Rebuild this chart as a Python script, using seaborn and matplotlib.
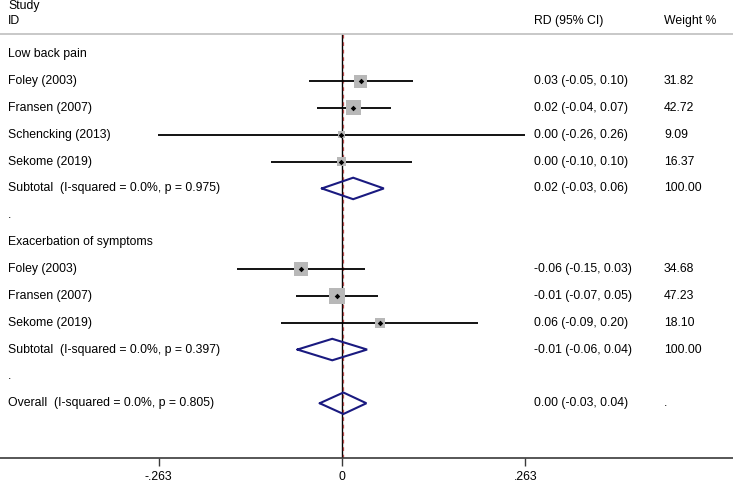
import numpy as np
import pandas as pd
import matplotlib
matplotlib.use("Agg")
import matplotlib.pyplot as plt
import seaborn as sns

# Dati del forest plot
group_names = ["Low back pain", "Exacerbation of symptoms"]
group_sizes = [4, 3]

study_names = ["Foley (2003)", "Fransen (2007)", "Schencking (2013)", "Sekome (2019)",
               "Foley (2003)", "Fransen (2007)", "Sekome (2019)"]
study_rd = [0.027, 0.016, -0.001, -0.001, -0.059, -0.007, 0.055]
study_lo = [-0.048, -0.036, -0.264, -0.102, -0.150, -0.066, -0.087]
study_hi = [0.102, 0.070, 0.262, 0.100, 0.033, 0.051, 0.195]
study_weight = [31.82, 42.72, 9.09, 16.37, 34.68, 47.23, 18.10]
study_ci_text = ["0.03 (-0.05, 0.10)", "0.02 (-0.04, 0.07)", "0.00 (-0.26, 0.26)",
                 "0.00 (-0.10, 0.10)", "-0.06 (-0.15, 0.03)", "-0.01 (-0.07, 0.05)",
                 "0.06 (-0.09, 0.20)"]
study_weight_text = ["31.82", "42.72", "9.09", "16.37", "34.68", "47.23", "18.10"]

pooled_labels = ["Subtotal  (I-squared = 0.0%, p = 0.975)",
                 "Subtotal  (I-squared = 0.0%, p = 0.397)",
                 "Overall  (I-squared = 0.0%, p = 0.805)"]
pooled_rd = [0.016, -0.014, 0.002]
pooled_lo = [-0.029, -0.064, -0.032]
pooled_hi = [0.060, 0.036, 0.035]
pooled_ci_text = ["0.02 (-0.03, 0.06)", "-0.01 (-0.06, 0.04)", "0.00 (-0.03, 0.04)"]
pooled_weight_text = ["100.00", "100.00", "."]

tick_values = [-0.263, 0, 0.263]
tick_labels = ["-.263", "0", ".263"]

# Costruzione delle righe
rows = []
k = 0
r = 0
for g, (gname, n) in enumerate(zip(group_names, group_sizes)):
    rows.append(dict(row=r, label=gname, kind="header"))
    r += 1
    for j in range(n):
        rows.append(dict(row=r, label=study_names[k], kind="study", rd=study_rd[k],
                         lo=study_lo[k], hi=study_hi[k], weight=study_weight[k],
                         ci=study_ci_text[k], w=study_weight_text[k]))
        k += 1
        r += 1
    rows.append(dict(row=r, label=pooled_labels[g], kind="pooled", rd=pooled_rd[g],
                     lo=pooled_lo[g], hi=pooled_hi[g], ci=pooled_ci_text[g],
                     w=pooled_weight_text[g]))
    r += 1
    rows.append(dict(row=r, label=".", kind="blank"))
    r += 1
rows.append(dict(row=r, label=pooled_labels[-1], kind="pooled", rd=pooled_rd[-1],
                 lo=pooled_lo[-1], hi=pooled_hi[-1], ci=pooled_ci_text[-1],
                 w=pooled_weight_text[-1]))
df = pd.DataFrame(rows)
studies = df[df["kind"] == "study"]
pooled = df[df["kind"] == "pooled"]

sns.set_theme(style="white")
plt.rcParams["font.family"] = ["Liberation Sans", "DejaVu Sans"]
plt.rcParams["text.color"] = "black"
fs = 8.8

W, H = 733, 482
fig = plt.figure(figsize=(W / 100, H / 100), dpi=100)
ax = fig.add_axes([0, (H - 458) / H, 1, (458 - 34) / H])

x0, scale = 342, 697.0
ax.set_xlim(-x0 / scale, (W - x0) / scale)
row_top, row_step = 54.2, 26.85
ax.set_ylim((458 - row_top) / row_step, (34 - row_top) / row_step)

navy = "#1a1a80"

# linea di non effetto e stima complessiva
ax.axvline(0, color="black", lw=1.0, zorder=1)
ax.axvline(pooled_rd[-1], color="#b54848", lw=0.9, ls=(0, (3, 3)), zorder=1)

# intervalli di confidenza
ax.hlines(studies["row"], studies["lo"], studies["hi"], color="black", lw=1.3, zorder=2)

# quadrati proporzionali al peso
sns.scatterplot(data=studies, x="rd", y="row", size="weight", sizes=(0, 274),
                size_norm=(0, 100), marker="s", color="#b8b8b8", linewidth=0,
                legend=False, ax=ax, zorder=3)
sns.scatterplot(data=studies, x="rd", y="row", marker="D", color="black", s=8,
                linewidth=0, legend=False, ax=ax, zorder=4)

# diamanti delle stime aggregate
dh = 0.4
for _, p in pooled.iterrows():
    xs = [p["lo"], p["rd"], p["hi"], p["rd"], p["lo"]]
    ys = [p["row"], p["row"] - dh, p["row"], p["row"] + dh, p["row"]]
    ax.plot(xs, ys, color=navy, lw=1.5, zorder=3, solid_joinstyle="miter")

# testo delle colonne
trans = ax.get_yaxis_transform()
for _, p in df.iterrows():
    ax.text(8 / W, p["row"], p["label"], transform=trans, ha="left", va="center", fontsize=fs)
    if p["kind"] in ("study", "pooled"):
        ax.text(534 / W, p["row"], p["ci"], transform=trans, ha="left", va="center", fontsize=fs)
        ax.text(664 / W, p["row"], p["w"], transform=trans, ha="left", va="center", fontsize=fs)

fig.text(8 / W, 1 - 6 / H, "Study", ha="left", va="center", fontsize=fs)
fig.text(8 / W, 1 - 21 / H, "ID", ha="left", va="center", fontsize=fs)
fig.text(534 / W, 1 - 21 / H, "RD (95% CI)", ha="left", va="center", fontsize=fs)
fig.text(664 / W, 1 - 21 / H, "Weight %", ha="left", va="center", fontsize=fs)

# assi
for s in ["left", "right"]:
    ax.spines[s].set_visible(False)
ax.spines["top"].set_color("#c4c4c4")
ax.spines["top"].set_linewidth(1.3)
ax.spines["bottom"].set_color("#3a3a3a")
ax.spines["bottom"].set_linewidth(1.2)
ax.set_yticks([])
ax.set_xticks(tick_values)
ax.set_xticklabels(tick_labels)
ax.tick_params(axis="x", direction="out", length=6, width=1.0, color="#3a3a3a",
               pad=3, labelsize=fs, labelcolor="black", bottom=True)
ax.set_xlabel("")
ax.set_ylabel("")

fig.savefig("out.png", dpi=100)
